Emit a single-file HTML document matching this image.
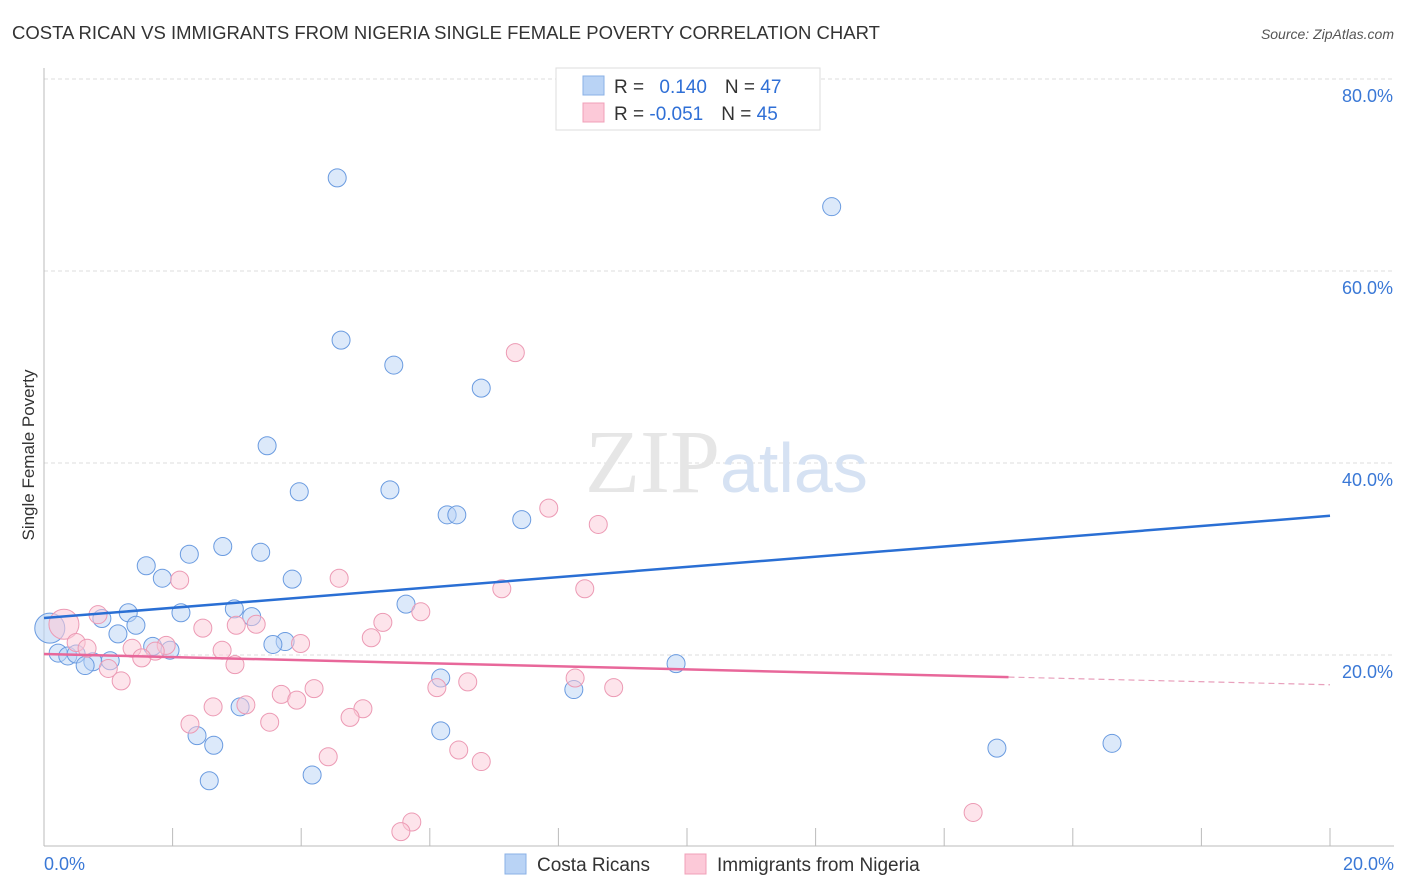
<!DOCTYPE html>
<html><head><meta charset="utf-8">
<style>
body{margin:0;background:#fff;font-family:"Liberation Sans",sans-serif;}
svg{display:block}
</style></head>
<body>
<svg id="chart" width="1406" height="892">
<text x="12" y="39" font-size="18.5" fill="#333">COSTA RICAN VS IMMIGRANTS FROM NIGERIA SINGLE FEMALE POVERTY CORRELATION CHART</text>
<text x="1394" y="39" font-size="14" fill="#555" font-style="italic" text-anchor="end">Source: ZipAtlas.com</text>
<text x="34" y="455" font-size="17" fill="#333" transform="rotate(-90 34 455)" text-anchor="middle">Single Female Poverty</text>
<g id="grid"></g>
<text x="720" y="492" font-size="90" fill="#e6e6e6" font-family="Liberation Serif,serif" text-anchor="end">ZIP</text>
<text x="720" y="492" font-size="70" fill="#d6e2f3">atlas</text>
<g id="marks"></g>
<g>
<rect x="556" y="68" width="264" height="62" fill="#fff" stroke="#ddd"/>
<rect x="583" y="76" width="21" height="19" fill="#b9d3f5" stroke="#8ab0e6"/>
<rect x="583" y="103" width="21" height="19" fill="#fcc9d8" stroke="#f0a0b8"/>
<text x="614" y="93" font-size="19" fill="#333">R = <tspan fill="#2f6fd6" dx="10">0.140</tspan><tspan fill="#333" dx="18">N = </tspan><tspan fill="#2f6fd6">47</tspan></text>
<text x="614" y="120" font-size="19" fill="#333">R = <tspan fill="#2f6fd6">-0.051</tspan><tspan fill="#333" dx="18">N = </tspan><tspan fill="#2f6fd6">45</tspan></text>
</g>
<g>
<rect x="505" y="854" width="21" height="20" fill="#b9d3f5" stroke="#8ab0e6"/>
<text x="537" y="871" font-size="19" fill="#333">Costa Ricans</text>
<rect x="685" y="854" width="21" height="20" fill="#fcc9d8" stroke="#f0a0b8"/>
<text x="717" y="871" font-size="19" fill="#333">Immigrants from Nigeria</text>
</g>
<text x="44" y="870" font-size="18" fill="#3a78d6">0.0%</text>
<text x="1394" y="870" font-size="18" fill="#3a78d6" text-anchor="end">20.0%</text>
</svg>
<script>
const blueX=[4.56,12.25,4.62,5.44,6.8,3.47,3.97,5.38,6.27,6.42,7.43,2.78,3.37,2.26,1.59,1.84,3.86,5.63,2.96,2.13,1.31,0.9,3.23,1.43,1.15,3.75,3.56,1.69,1.96,0.22,0.37,0.5,0.76,1.03,0.64,9.83,6.17,8.24,3.05,2.38,2.64,6.17,4.17,2.57,14.82,16.61,0.09];
const blueY=[69.7,66.7,52.8,50.2,47.8,41.8,37.0,37.2,34.6,34.6,34.1,31.3,30.7,30.5,29.3,28.0,27.9,25.3,24.8,24.4,24.4,23.8,24.0,23.1,22.2,21.4,21.1,20.9,20.5,20.2,19.9,20.1,19.3,19.4,18.9,19.1,17.6,16.4,14.6,11.6,10.6,12.1,7.5,6.9,10.3,10.8,22.8];
const pinkX=[7.33,7.85,8.62,2.11,4.59,7.12,8.41,0.84,5.86,5.27,0.31,3.3,2.47,2.99,5.09,3.99,1.9,0.5,0.67,1.37,1.73,2.77,1.52,2.97,1.0,1.2,8.26,6.59,6.11,8.86,4.2,3.69,3.93,2.63,3.14,4.96,4.76,2.27,3.51,6.45,4.42,6.8,14.45,5.72,5.55];
const pinkY=[51.5,35.3,33.6,27.8,28.0,26.9,26.9,24.2,24.5,23.4,23.2,23.2,22.8,23.1,21.8,21.2,21.0,21.3,20.7,20.7,20.4,20.5,19.7,19.0,18.6,17.3,17.6,17.2,16.6,16.6,16.5,15.9,15.3,14.6,14.8,14.4,13.5,12.8,13.0,10.1,9.4,8.9,3.6,2.6,1.6];
const yTicks=[20,40,60,80];
const yTickLabels=["20.0%","40.0%","60.0%","80.0%"];
const xTicks=[0,2,4,6,8,10,12,14,16,18,20];
const blueTrend=[23.85,34.5];
const pinkTrend=[20.1,16.9];
const pinkSolidEnd=15.0;

const NS="http://www.w3.org/2000/svg";
const X=v=>44+v*64.3, Y=v=>847-v*9.6;
function mk(tag,attrs,parent){const e=document.createElementNS(NS,tag);for(const k in attrs)e.setAttribute(k,attrs[k]);parent.appendChild(e);return e;}
const grid=document.getElementById('grid'), marks=document.getElementById('marks');
yTicks.forEach((t,i)=>{
 const l=mk('line',{x1:44,x2:1394,y1:Y(t),y2:Y(t),stroke:'#ddd','stroke-dasharray':'4,3'},grid);
 
 
 const tx=mk('text',{x:1393,y:Y(t)+23,'font-size':18,fill:'#3a78d6','text-anchor':'end'},grid);
 tx.textContent=yTickLabels[i];
 
 
});
const ax=mk('line',{x1:44,x2:1394,y1:846,y2:846,stroke:'#bbb'},grid);


const ay=mk('line',{x1:44,x2:44,y1:68,y2:846,stroke:'#bbb'},grid);


xTicks.forEach(t=>{
 const l=mk('line',{x1:X(t),x2:X(t),y1:828,y2:846,stroke:'#bbb'},grid);
 
 
});
function pts(xs,ys,fill,stroke,name,bigIdx){
 xs.forEach((x,i)=>{
  const big=(i===bigIdx);
  const c=mk('circle',{cx:X(x),cy:Y(ys[i]),r:big?15:9,fill:fill,'fill-opacity':big?0.6:0.5,stroke:stroke,'stroke-width':1},marks);
  
  
 });
}
pts(blueX,blueY,'#b9d3f5','#6a9be0','blue-point',blueX.length-1);
pts(pinkX,pinkY,'#fcc9d8','#ec9ab4','pink-point',10);
const bl=mk('line',{x1:X(0),y1:Y(blueTrend[0]),x2:X(20),y2:Y(blueTrend[1]),stroke:'#2a6fd4','stroke-width':2.5},marks);


const pm=pinkTrend[0]+(pinkTrend[1]-pinkTrend[0])*pinkSolidEnd/20;
const pl=mk('line',{x1:X(0),y1:Y(pinkTrend[0]),x2:X(pinkSolidEnd),y2:Y(pm),stroke:'#e8679a','stroke-width':2.5},marks);


const pd=mk('line',{x1:X(pinkSolidEnd),y1:Y(pm),x2:X(20),y2:Y(pinkTrend[1]),stroke:'#e8a0bc','stroke-width':1.2,'stroke-dasharray':'6,4'},marks);


</script>
</body></html>
